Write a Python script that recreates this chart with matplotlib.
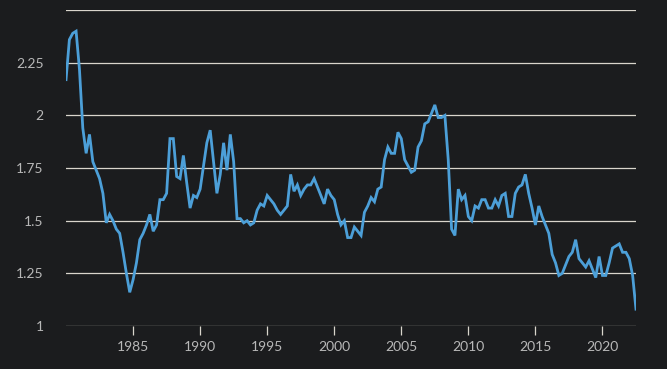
import numpy as np
from matplotlib import pyplot as plt

# quarterly values, 1980 Q1 .. 2022 Q3
start_year = 1980
values = [
    2.17, 2.36, 2.39, 2.40, 2.22, 1.94, 1.82, 1.91, 1.78, 1.74, 1.70, 1.63,
    1.49, 1.53, 1.50, 1.46, 1.44, 1.35, 1.25, 1.16, 1.22, 1.30, 1.41, 1.44,
    1.48, 1.53, 1.45, 1.48, 1.60, 1.60, 1.63, 1.89, 1.89, 1.71, 1.70, 1.81,
    1.68, 1.56, 1.62, 1.61, 1.65, 1.76, 1.87, 1.93, 1.78, 1.63, 1.72, 1.87,
    1.74, 1.91, 1.78, 1.51, 1.51, 1.49, 1.50, 1.48, 1.49, 1.55, 1.58, 1.57,
    1.62, 1.60, 1.58, 1.55, 1.53, 1.55, 1.57, 1.72, 1.64, 1.67, 1.62, 1.65,
    1.67, 1.67, 1.70, 1.66, 1.62, 1.58, 1.65, 1.62, 1.60, 1.53, 1.48, 1.50,
    1.42, 1.42, 1.47, 1.45, 1.43, 1.54, 1.57, 1.61, 1.59, 1.65, 1.66, 1.79,
    1.85, 1.82, 1.82, 1.92, 1.89, 1.79, 1.76, 1.73, 1.74, 1.85, 1.88, 1.96,
    1.97, 2.01, 2.05, 1.99, 1.99, 2.00, 1.79, 1.46, 1.43, 1.65, 1.60, 1.62,
    1.52, 1.50, 1.57, 1.56, 1.60, 1.60, 1.56, 1.56, 1.60, 1.57, 1.62, 1.63,
    1.52, 1.52, 1.63, 1.66, 1.67, 1.72, 1.63, 1.56, 1.48, 1.57, 1.52, 1.48,
    1.44, 1.34, 1.30, 1.24, 1.25, 1.29, 1.33, 1.35, 1.41, 1.32, 1.30, 1.28,
    1.31, 1.27, 1.23, 1.33, 1.24, 1.24, 1.30, 1.37, 1.38, 1.39, 1.35, 1.35,
    1.32, 1.24, 1.08,
]
years = start_year + np.arange(len(values)) / 4

y_ticks = [1, 1.25, 1.5, 1.75, 2, 2.25, 2.5]
y_labels = ["1", "1.25", "1.5", "1.75", "2", "2.25", ""]
x_ticks = [1985, 1990, 1995, 2000, 2005, 2010, 2015, 2020]

bg = "#1b1c1e"
grid_col = "#d9d5cc"
text_col = "#b8b8b8"

plt.rcParams["font.family"] = ["Lato", "DejaVu Sans"]

fig = plt.figure(figsize=(6.67, 3.69), dpi=100, facecolor=bg)
ax = fig.add_axes([0.099, 0.1165, 0.8545, 0.856])
ax.set_facecolor(bg)

ax.plot(years, values, color="#4c9fd8", linewidth=2.0, solid_joinstyle="miter", zorder=3)

ax.set_xlim(years[0], years[-1])
ax.set_ylim(1, 2.5)
ax.set_yticks(y_ticks)
ax.set_yticklabels(y_labels)
ax.set_xticks(x_ticks)
ax.set_xticklabels([str(x) for x in x_ticks])

ax.grid(axis="y", color=grid_col, linewidth=0.9, zorder=1)
ax.grid(axis="x", visible=False)
for s in ax.spines.values():
    s.set_visible(False)

ax.tick_params(axis="y", length=0, pad=16, labelsize=10, labelcolor=text_col)
ax.tick_params(axis="x", length=6.5, width=0.9, color=grid_col, pad=4,
               labelsize=10, labelcolor=text_col)

fig.savefig("out.png", dpi=100, facecolor=bg)
